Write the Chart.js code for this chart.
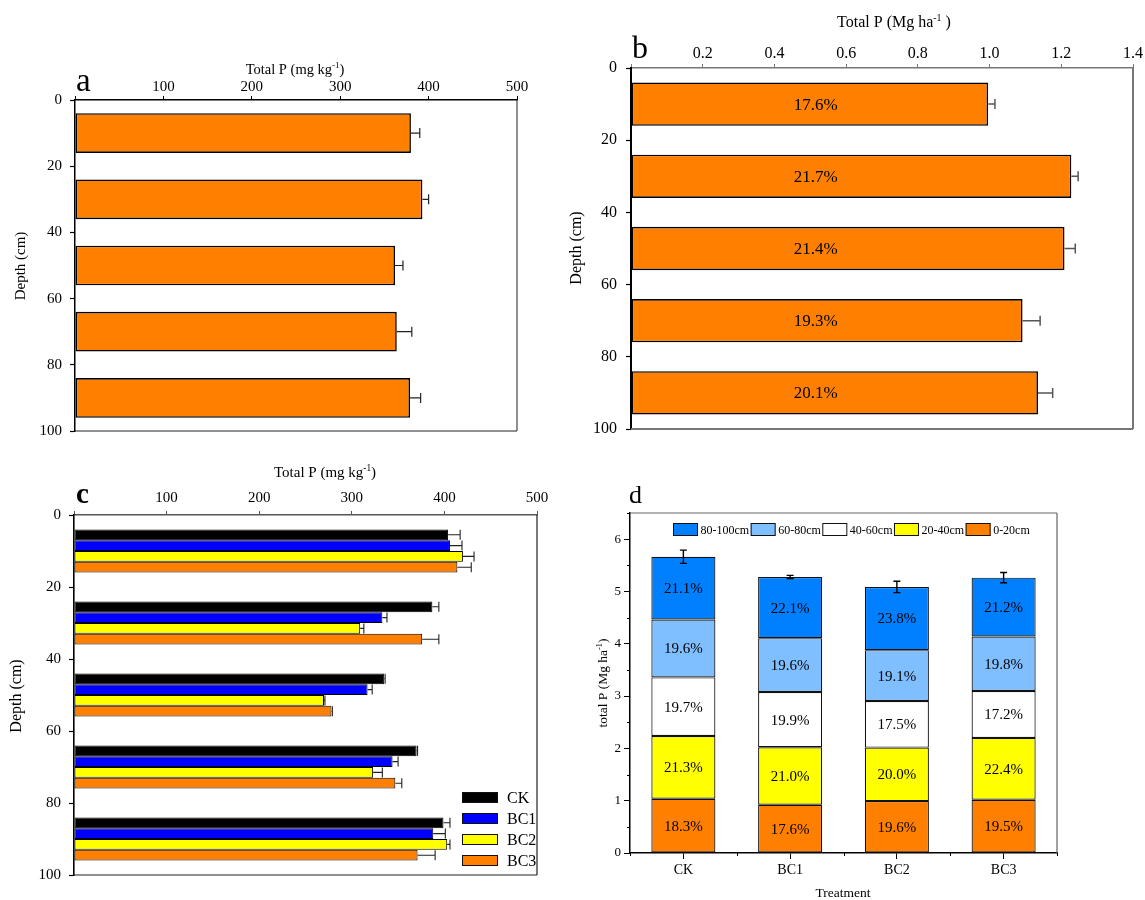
<!DOCTYPE html>
<html>
<head>
<meta charset="utf-8">
<script src="https://cdn.jsdelivr.net/npm/chart.js@4.4.1/dist/chart.umd.min.js"></script>
<style>
  body { margin: 0; background: #fff; }
  #wrap { position: relative; width: 1145px; height: 900px; }
  #wrap canvas { position: absolute; left: 0; top: 0; }
</style>
</head>
<body>
<div id="wrap">
  <canvas id="pa" width="1145" height="900"></canvas>
  <canvas id="pb" width="1145" height="900"></canvas>
  <canvas id="pc" width="1145" height="900"></canvas>
  <canvas id="pd" width="1145" height="900"></canvas>
</div>
<script>
// ---- datos ----
const depthMid = [10, 30, 50, 70, 90];

// a: P total (mg kg-1) por profundidad
const tpA = [380, 393, 362, 364, 379];
const tpAErr = [10, 7, 9, 17, 12];

// b: P total (Mg ha-1) por profundidad
const tpB = [0.996, 1.228, 1.209, 1.092, 1.135];
const tpBErr = [0.019, 0.019, 0.03, 0.049, 0.041];
const pctB = ['17.6%', '21.7%', '21.4%', '19.3%', '20.1%'];

// c: P total (mg kg-1) por tratamiento y profundidad
const treatments = ['CK', 'BC1', 'BC2', 'BC3'];
const tpCK = [404, 387, 335, 370, 399];
const tpBC1 = [406, 333, 317, 344, 388];
const tpBC2 = [420, 309, 270, 323, 403];
const tpBC3 = [414, 376, 278, 347, 371];
const errCK = [13, 7, 1, 1, 7];
const errBC1 = [13, 5, 5, 6, 13];
const errBC2 = [12, 4, 1, 10, 3];
const errBC3 = [15, 18, 1, 7, 19];

// d: P total acumulado (Mg ha-1) por capa
const layers = ['0-20cm', '20-40cm', '40-60cm', '60-80cm', '80-100cm'];
const d0_20 = [1.036, 0.922, 0.992, 1.017];
const d20_40 = [1.202, 1.100, 1.023, 1.183];
const d40_60 = [1.119, 1.055, 0.890, 0.896];
const d60_80 = [1.106, 1.030, 0.973, 1.043];
const d80_100 = [1.201, 1.170, 1.208, 1.125];
const dErr = [0.127, 0.03, 0.108, 0.098];
const pct0_20 = ['18.3%', '17.6%', '19.6%', '19.5%'];
const pct20_40 = ['21.3%', '21.0%', '20.0%', '22.4%'];
const pct40_60 = ['19.7%', '19.9%', '17.5%', '17.2%'];
const pct60_80 = ['19.6%', '19.6%', '19.1%', '19.8%'];
const pct80_100 = ['21.1%', '22.1%', '23.8%', '21.2%'];

const FONT = '"Liberation Serif", "Times New Roman", serif';
const ORANGE = '#FF8000';
Chart.defaults.font.family = FONT;
Chart.defaults.color = '#000';

const pts = vals => depthMid.map((y, i) => ({ x: vals[i], y: y }));

// texto con superindice (ej. kg-1), centrado en x,y
function supText(ctx, parts, x, y, size, rot) {
  ctx.save();
  ctx.translate(x, y);
  if (rot) ctx.rotate(rot);
  ctx.textAlign = 'left';
  ctx.textBaseline = 'alphabetic';
  ctx.fillStyle = '#000';
  const widths = parts.map(p => {
    ctx.font = (p[1] ? size * 0.62 : size) + 'px ' + FONT;
    return ctx.measureText(p[0]).width;
  });
  let cx = -widths.reduce((a, b) => a + b, 0) / 2;
  parts.forEach((p, i) => {
    ctx.font = (p[1] ? size * 0.62 : size) + 'px ' + FONT;
    ctx.fillText(p[0], cx, p[1] ? -size * 0.08 : size * 0.33);
    cx += widths[i];
  });
  ctx.restore();
}

const extras = {
  id: 'extras',
  afterDatasetsDraw(chart, args, o) {
    const ctx = chart.ctx, xs = chart.scales.x, ys = chart.scales.y;
    ctx.save();
    // barras de error
    chart.data.datasets.forEach((ds, di) => {
      if (!ds.err) return;
      const meta = chart.getDatasetMeta(di);
      ctx.strokeStyle = o.errColor || '#000';
      ctx.lineWidth = o.errWidth || 1.2;
      meta.data.forEach((el, i) => {
        ctx.beginPath();
        if (o.vertical) {
          const dp = ys.getPixelForValue(0) - ys.getPixelForValue(ds.err[i]);
          const w = o.cap / 2;
          ctx.moveTo(el.x, el.y - dp); ctx.lineTo(el.x, el.y + dp);
          ctx.moveTo(el.x - w, el.y - dp); ctx.lineTo(el.x + w, el.y - dp);
          ctx.moveTo(el.x - w, el.y + dp); ctx.lineTo(el.x + w, el.y + dp);
        } else {
          const xEnd = xs.getPixelForValue(ds.data[i].x + ds.err[i]);
          ctx.moveTo(el.x, el.y); ctx.lineTo(xEnd, el.y);
          ctx.moveTo(xEnd, el.y - o.cap / 2); ctx.lineTo(xEnd, el.y + o.cap / 2);
        }
        ctx.stroke();
      });
    });
    // porcentajes dentro de las barras
    ctx.fillStyle = '#000';
    ctx.textAlign = 'center';
    ctx.textBaseline = 'middle';
    chart.data.datasets.forEach((ds, di) => {
      if (!ds.pct) return;
      const meta = chart.getDatasetMeta(di);
      ctx.font = o.pctSize + 'px ' + FONT;
      meta.data.forEach((el, i) => {
        if (o.vertical) ctx.fillText(ds.pct[i], el.x, (el.y + el.base) / 2 + 1);
        else ctx.fillText(ds.pct[i], xs.getPixelForValue(o.pctAt), el.y + 1);
      });
    });
    ctx.restore();
  },
  afterDraw(chart, args, o) {
    const ctx = chart.ctx, a = chart.chartArea;
    ctx.save();
    // marco
    if (o.frame) {
      ctx.strokeStyle = o.frame.color;
      ctx.lineWidth = o.frame.width;
      ctx.beginPath();
      ctx.moveTo(a.right, a.top); ctx.lineTo(a.right, a.bottom);
      if (o.frame.side === 'bottom') { ctx.moveTo(a.left, a.bottom); ctx.lineTo(a.right, a.bottom); }
      else { ctx.moveTo(a.left, a.top); ctx.lineTo(a.right, a.top); }
      ctx.stroke();
    }
    // marcas menores (panel d)
    if (o.minor) {
      const ys = chart.scales.y;
      ctx.strokeStyle = '#000';
      ctx.lineWidth = 1;
      ctx.beginPath();
      const step = (a.right - a.left) / chart.data.labels.length;
      for (let k = 0; k <= chart.data.labels.length; k++) {
        const x = Math.round(a.left + k * step) + 0.5;
        ctx.moveTo(x, a.bottom); ctx.lineTo(x, a.bottom + 3);
      }
      for (let v = 0.5; v <= ys.max; v += 1) {
        const y = Math.round(ys.getPixelForValue(v)) + 0.5;
        ctx.moveTo(a.left, y); ctx.lineTo(a.left - 3, y);
      }
      ctx.stroke();
    }
    // leyenda propia
    if (o.legend) {
      const L = o.legend;
      let items = chart.data.datasets.map(ds => ({ label: ds.label, color: ds.backgroundColor }));
      if (L.reverse) items.reverse();
      ctx.font = L.size + 'px ' + FONT;
      ctx.textBaseline = 'middle';
      ctx.textAlign = 'left';
      let x = L.x, y = L.y;
      items.forEach(it => {
        ctx.fillStyle = it.color;
        ctx.fillRect(x, y, L.boxW, L.boxH);
        ctx.strokeStyle = '#111';
        ctx.lineWidth = 1;
        ctx.strokeRect(x + 0.5, y + 0.5, L.boxW - 1, L.boxH - 1);
        ctx.fillStyle = '#000';
        ctx.fillText(it.label, x + L.boxW + L.gap, y + L.boxH / 2 + 1);
        if (L.horizontal) x += L.boxW + L.gap + ctx.measureText(it.label).width + L.after;
        else y += L.step;
      });
    }
    // textos: letra del panel y titulos de ejes
    (o.texts || []).forEach(t => {
      if (t.parts) {
        supText(ctx, t.parts, t.x, t.y, t.size, t.rot);
      } else {
        ctx.save();
        ctx.translate(t.x, t.y);
        if (t.rot) ctx.rotate(t.rot);
        ctx.font = (t.bold ? 'bold ' : '') + t.size + 'px ' + FONT;
        ctx.fillStyle = '#000';
        ctx.textAlign = t.align || 'center';
        ctx.textBaseline = t.base || 'middle';
        ctx.fillText(t.text, 0, 0);
        ctx.restore();
      }
    });
    ctx.restore();
  }
};

function topAxis(max, step, size, color, pad, digits) {
  return {
    type: 'linear', position: 'top', min: 0, max: max, offset: false,
    ticks: {
      stepSize: step, autoSkip: false, maxRotation: 0, padding: pad, color: '#000', font: { size: size },
      callback: v => (v === 0 ? '' : v.toFixed(digits))
    },
    grid: { display: true, drawOnChartArea: false, offset: false, tickLength: 4, tickColor: color, tickWidth: 1 },
    border: { color: color, width: 1.5 },
    afterFit: s => { s.height = 30; }
  };
}

function depthAxis(size, pad, width) {
  return {
    type: 'linear', min: 0, max: 100, reverse: true, offset: false,
    ticks: { stepSize: 20, autoSkip: false, padding: pad, color: '#000', font: { size: size } },
    grid: { display: true, drawOnChartArea: false, offset: false, tickLength: 5, tickColor: '#000', tickWidth: 1.2 },
    border: { color: '#000', width: width },
    afterFit: s => { s.width = 40; }
  };
}

const noUi = { legend: { display: false }, tooltip: { enabled: false } };

// ---- panel a ----
new Chart(document.getElementById('pa'), {
  type: 'bar',
  data: {
    datasets: [{
      data: pts(tpA), err: tpAErr, backgroundColor: ORANGE, borderColor: '#000',
      borderWidth: 1.6, borderSkipped: false, barPercentage: 0.6, categoryPercentage: 1
    }]
  },
  options: {
    responsive: false, animation: false, indexAxis: 'y',
    layout: { padding: { left: 75 - 40, top: 100 - 30, right: 1145 - 517, bottom: 900 - 431 } },
    plugins: Object.assign({}, noUi, {
      extras: {
        errColor: '#222', errWidth: 1.2, cap: 10,
        frame: { color: '#222', width: 1, side: 'bottom' },
        texts: [
          { text: 'a', x: 76, y: 91, size: 33, align: 'left', base: 'alphabetic' },
          { parts: [['Total P (mg kg', false], ['-1', true], [')', false]], x: 295, y: 69, size: 14.5 },
          { text: 'Depth (cm)', x: 21, y: 266, size: 15, rot: -Math.PI / 2 }
        ]
      }
    }),
    scales: { x: topAxis(500, 100, 15, '#000', 0, 0), y: depthAxis(15, 8, 1.5) }
  },
  plugins: [extras]
});

// ---- panel b ----
new Chart(document.getElementById('pb'), {
  type: 'bar',
  data: {
    datasets: [{
      data: pts(tpB), err: tpBErr, pct: pctB, backgroundColor: ORANGE, borderColor: '#000',
      borderWidth: 1.6, borderSkipped: false, barPercentage: 0.6, categoryPercentage: 1
    }]
  },
  options: {
    responsive: false, animation: false, indexAxis: 'y',
    layout: { padding: { left: 631 - 40, top: 68 - 30, right: 1145 - 1133, bottom: 900 - 429 } },
    plugins: Object.assign({}, noUi, {
      extras: {
        errColor: '#555', errWidth: 1.5, cap: 10, pctSize: 17, pctAt: 0.515,
        frame: { color: '#777', width: 2, side: 'bottom' },
        texts: [
          { text: 'b', x: 632, y: 58, size: 32, align: 'left', base: 'alphabetic' },
          { parts: [['Total P (Mg ha', false], ['-1', true], [' )', false]], x: 894, y: 22, size: 16 },
          { text: 'Depth (cm)', x: 577, y: 248, size: 16, rot: -Math.PI / 2 }
        ]
      }
    }),
    scales: { x: topAxis(1.4, 0.2, 16, '#777', 1, 1), y: depthAxis(16, 9, 2) }
  },
  plugins: [extras]
});

// ---- panel c ----
const cColors = ['#000000', '#0000FF', '#FFFF00', ORANGE];
const cVals = [tpCK, tpBC1, tpBC2, tpBC3];
const cErrs = [errCK, errBC1, errBC2, errBC3];
new Chart(document.getElementById('pc'), {
  type: 'bar',
  data: {
    datasets: treatments.map((t, k) => ({
      label: t, data: pts(cVals[k]), err: cErrs[k], backgroundColor: cColors[k], borderColor: '#000',
      borderWidth: 1, borderSkipped: false, barPercentage: 1, categoryPercentage: 0.6
    }))
  },
  options: {
    responsive: false, animation: false, indexAxis: 'y',
    layout: { padding: { left: 74 - 40, top: 515 - 30, right: 1145 - 537, bottom: 900 - 875 } },
    plugins: Object.assign({}, noUi, {
      extras: {
        errColor: '#222', errWidth: 1.1, cap: 10,
        frame: { color: '#222', width: 1.2, side: 'bottom' },
        legend: { x: 462, y: 792, boxW: 36, boxH: 11, gap: 9, step: 21, size: 16 },
        texts: [
          { text: 'c', x: 76, y: 503, size: 29, bold: true, align: 'left', base: 'alphabetic' },
          { parts: [['Total P (mg kg', false], ['-1', true], [')', false]], x: 325, y: 472, size: 15 },
          { text: 'Depth (cm)', x: 17, y: 696, size: 16, rot: -Math.PI / 2 }
        ]
      }
    }),
    scales: { x: topAxis(500, 100, 15, '#555', 4, 0), y: depthAxis(15, 8, 1.6) }
  },
  plugins: [extras]
});

// ---- panel d ----
const dColors = [ORANGE, '#FFFF00', '#FFFFFF', '#80BFFF', '#0080FF'];
const dVals = [d0_20, d20_40, d40_60, d60_80, d80_100];
const dPcts = [pct0_20, pct20_40, pct40_60, pct60_80, pct80_100];
new Chart(document.getElementById('pd'), {
  type: 'bar',
  data: {
    labels: treatments,
    datasets: layers.map((l, k) => ({
      label: l, data: dVals[k], pct: dPcts[k], err: k === layers.length - 1 ? dErr : undefined,
      backgroundColor: dColors[k], borderColor: '#111', borderWidth: 1.2, borderSkipped: false,
      barPercentage: 0.6, categoryPercentage: 1
    }))
  },
  options: {
    responsive: false, animation: false,
    layout: { padding: { left: 630 - 40, top: 513, right: 1145 - 1057, bottom: 900 - 853 - 30 } },
    plugins: Object.assign({}, noUi, {
      extras: {
        vertical: true, errColor: '#000', errWidth: 1.4, cap: 7, pctSize: 15, minor: true,
        frame: { color: '#666', width: 1.2, side: 'top' },
        legend: { x: 673, y: 523, boxW: 25, boxH: 13, gap: 2.5, after: 1.5, size: 12, horizontal: true, reverse: true },
        texts: [
          { text: 'd', x: 629, y: 503, size: 26, align: 'left', base: 'alphabetic' },
          { parts: [['total P (Mg ha', false], ['-1', true], [')', false]], x: 603, y: 683, size: 13.5, rot: -Math.PI / 2 },
          { text: 'Treatment', x: 843, y: 893, size: 13.5 }
        ]
      }
    }),
    scales: {
      x: {
        type: 'category', stacked: true, offset: true,
        ticks: { padding: 3, color: '#000', font: { size: 14 } },
        grid: { display: true, drawOnChartArea: false, offset: false, tickLength: 6, tickColor: '#000', tickWidth: 1 },
        border: { color: '#000', width: 1.5 },
        afterFit: s => { s.height = 30; }
      },
      y: {
        type: 'linear', stacked: true, min: 0, max: 6.5, offset: false,
        ticks: { stepSize: 1, includeBounds: false, padding: 3, color: '#000', font: { size: 13 } },
        grid: { display: true, drawOnChartArea: false, offset: false, tickLength: 6, tickColor: '#000', tickWidth: 1 },
        border: { color: '#000', width: 1.5 },
        afterFit: s => { s.width = 40; }
      }
    }
  },
  plugins: [extras]
});
</script>
</body>
</html>
